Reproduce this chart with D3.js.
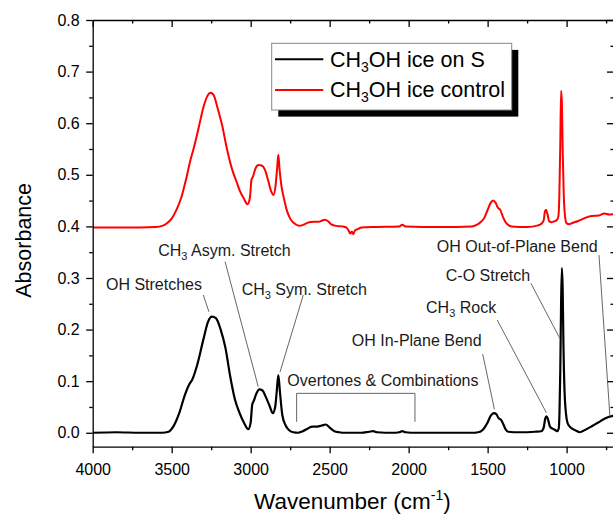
<!DOCTYPE html>
<html>
<head>
<meta charset="utf-8">
<script src="https://cdn.jsdelivr.net/npm/d3@7/dist/d3.min.js"></script>
<style>
  html, body { margin: 0; padding: 0; background: #fff; }
  svg { display: block; font-family: "Liberation Sans", Arial, sans-serif; }
</style>
</head>
<body>
<svg id="chart" width="613" height="514"></svg>
<script>
// ---------- DATA ----------
const seriesNames = ["CH3OH ice on S", "CH3OH ice control"];

const wavenumberS = [4000,3850,3700,3560,3520,3490,3450,3420,3390,3370,3340,3300,3270,3245,3220,3190,3160,3130,3100,3070,3040,3015,3000,2990,2980,2965,2945,2925,2905,2880,2860,2845,2835,2825,2815,2800,2780,2760,2730,2700,2670,2640,2610,2580,2550,2525,2500,2470,2440,2400,2300,2250,2225,2200,2100,2060,2040,2020,1950,1800,1600,1560,1530,1500,1480,1460,1445,1430,1415,1400,1385,1370,1300,1200,1160,1145,1135,1127,1118,1105,1090,1075,1060,1050,1045,1040,1035,1030,1025,1020,1013,1005,995,980,960,940,917,900,850,800,760,730,700];
const absorbanceS = [0.000,0.001,0.000,0.000,0.002,0.012,0.040,0.070,0.093,0.103,0.130,0.180,0.215,0.225,0.222,0.200,0.165,0.110,0.065,0.038,0.018,0.007,0.020,0.055,0.062,0.075,0.084,0.082,0.070,0.052,0.038,0.050,0.080,0.112,0.080,0.035,0.015,0.006,0.001,0.000,0.003,0.008,0.012,0.012,0.014,0.016,0.010,0.003,0.001,0.000,0.000,0.002,0.003,0.001,0.000,0.001,0.003,0.001,0.000,0.000,0.000,0.001,0.006,0.020,0.033,0.038,0.036,0.028,0.025,0.016,0.006,0.002,0.001,0.002,0.003,0.010,0.028,0.032,0.026,0.012,0.008,0.006,0.003,0.008,0.040,0.120,0.250,0.319,0.280,0.170,0.080,0.040,0.020,0.012,0.007,0.004,0.001,0.003,0.011,0.020,0.027,0.031,0.033];

const wavenumberC = [4000,3800,3600,3560,3530,3500,3470,3440,3410,3380,3360,3330,3300,3275,3255,3235,3210,3180,3150,3115,3090,3070,3045,3020,3005,2995,2985,2970,2950,2930,2910,2890,2870,2855,2842,2832,2825,2817,2805,2790,2770,2750,2720,2690,2660,2630,2600,2570,2550,2530,2510,2490,2460,2420,2395,2380,2370,2360,2350,2340,2320,2300,2200,2060,2040,2020,1800,1600,1570,1545,1520,1500,1480,1465,1450,1435,1420,1405,1390,1375,1350,1250,1180,1160,1145,1138,1131,1122,1110,1095,1075,1060,1052,1046,1040,1035,1030,1025,1018,1010,1000,985,960,930,900,870,840,800,760,730,700];
const absorbanceC = [0.398,0.398,0.399,0.401,0.406,0.415,0.432,0.455,0.490,0.530,0.552,0.590,0.630,0.652,0.659,0.655,0.630,0.595,0.550,0.508,0.487,0.470,0.455,0.443,0.455,0.490,0.497,0.512,0.519,0.518,0.510,0.490,0.468,0.461,0.480,0.515,0.539,0.510,0.478,0.455,0.430,0.415,0.405,0.401,0.404,0.408,0.409,0.409,0.411,0.413,0.410,0.404,0.401,0.400,0.398,0.392,0.386,0.390,0.385,0.392,0.395,0.398,0.399,0.400,0.403,0.400,0.399,0.400,0.403,0.408,0.417,0.432,0.446,0.450,0.446,0.436,0.432,0.420,0.410,0.404,0.400,0.399,0.402,0.405,0.412,0.428,0.432,0.425,0.410,0.408,0.410,0.413,0.420,0.460,0.560,0.663,0.640,0.550,0.460,0.420,0.406,0.404,0.407,0.410,0.414,0.418,0.420,0.421,0.425,0.423,0.424];

const xMajorTicks = [4000,3500,3000,2500,2000,1500,1000];
const xMinorTicks = [3750,3250,2750,2250,1750,1250,750];
const xTickLabels = ["4000","3500","3000","2500","2000","1500","1000"];
const yMajorTicks = [0,0.1,0.2,0.3,0.4,0.5,0.6,0.7,0.8];
const yMinorTicks = [0.05,0.15,0.25,0.35,0.45,0.55,0.65,0.75];
const yTickLabels = ["0.0","0.1","0.2","0.3","0.4","0.5","0.6","0.7","0.8"];

// annotations in data units: [label parts, text wavenumber, text absorbance, line from (v,a) to (v,a)]
const annoLabels = [
  [["CH","3"," Asym. Stretch"]],
  [["OH Stretches"]],
  [["CH","3"," Sym. Stretch"]],
  [["Overtones & Combinations"]],
  [["OH In-Plane Bend"]],
  [["CH","3"," Rock"]],
  [["C-O Stretch"]],
  [["OH Out-of-Plane Bend"]]
];
const annoTextAt = [[3585,0.3425],[3916,0.2766],[3057,0.267],[2768,0.0905],[2360,0.168],[1890,0.232],[1765,0.294],[1822,0.3495]];
const annoLines = [
  [3162,0.3315,2952,0.0892],
  [3300,0.267,3264,0.2345],
  [2667,0.267,2814,0.118],
  null,
  [1531,0.1525,1457,0.0454],
  [1439,0.2185,1128,0.0388],
  [1226,0.2896,1043,0.183],
  [795,0.3444,726,0.0324]
];
const bracket = [2709, 1960, 0.0764, 0.0213];

// ---------- LAYOUT ----------
const svg = d3.select("#chart");
const L = 92.7, R = 614, T = 20, B = 446.7;
const x = d3.scaleLinear().domain([4000, 700]).range([L, R]);
const y = d3.scaleLinear().domain([-0.027, 0.8]).range([B, T]);

svg.append("rect").attr("width", 613).attr("height", 514).attr("fill", "#fff");

// ---------- SERIES ----------
const line = d3.line().x(d => x(d[0])).y(d => y(d[1])).curve(d3.curveMonotoneX);
const dataS = wavenumberS.map((v, i) => [v, absorbanceS[i]]);
const dataC = wavenumberC.map((v, i) => [v, absorbanceC[i]]);

const clip = svg.append("clipPath").attr("id", "clip").append("rect")
  .attr("x", L).attr("y", T).attr("width", R - L).attr("height", B - T);

const plot = svg.append("g").attr("clip-path", "url(#clip)");
plot.append("path").datum(dataC).attr("d", line)
  .attr("fill", "none").attr("stroke", "#ff0000").attr("stroke-width", 2).attr("stroke-linejoin", "round");
plot.append("path").datum(dataS).attr("d", line)
  .attr("fill", "none").attr("stroke", "#000").attr("stroke-width", 2.2).attr("stroke-linejoin", "round");

// ---------- AXES ----------
function styleAxis(g) {
  g.select(".domain").attr("stroke", "#000").attr("stroke-width", 1.3);
  g.selectAll(".tick line").attr("stroke", "#000").attr("stroke-width", 1.3);
  g.selectAll(".tick text").attr("fill", "#000");
}
// bottom
const gxB = svg.append("g").attr("transform", `translate(0,${B})`)
  .call(d3.axisBottom(x).tickValues(xMajorTicks).tickFormat((d, i) => xTickLabels[i]).tickSizeInner(6.5).tickSizeOuter(0).tickPadding(10));
styleAxis(gxB);
gxB.selectAll(".tick text").attr("font-size", 16).attr("font-family", "Liberation Sans, Arial, sans-serif");
svg.append("g").attr("transform", `translate(0,${B})`)
  .call(d3.axisBottom(x).tickValues(xMinorTicks).tickFormat("").tickSizeInner(3.5).tickSizeOuter(0))
  .call(g => { g.select(".domain").remove(); styleAxis(g); });
// top
const gxT = svg.append("g").attr("transform", `translate(0,${T})`)
  .call(d3.axisBottom(x).tickValues(xMajorTicks).tickFormat("").tickSizeInner(7).tickSizeOuter(0));
styleAxis(gxT);
svg.append("g").attr("transform", `translate(0,${T})`)
  .call(d3.axisBottom(x).tickValues(xMinorTicks).tickFormat("").tickSizeInner(3.5).tickSizeOuter(0))
  .call(g => { g.select(".domain").remove(); styleAxis(g); });
// left
const gyL = svg.append("g").attr("transform", `translate(${L},0)`)
  .call(d3.axisLeft(y).tickValues(yMajorTicks).tickFormat((d, i) => yTickLabels[i]).tickSizeInner(6.5).tickSizeOuter(0).tickPadding(6.5));
styleAxis(gyL);
gyL.selectAll(".tick text").attr("font-size", 16).attr("font-family", "Liberation Sans, Arial, sans-serif");
svg.append("g").attr("transform", `translate(${L},0)`)
  .call(d3.axisLeft(y).tickValues(yMinorTicks).tickFormat("").tickSizeInner(3.5).tickSizeOuter(0))
  .call(g => { g.select(".domain").remove(); styleAxis(g); });
// right
const gyR = svg.append("g").attr("transform", `translate(${R},0)`)
  .call(d3.axisLeft(y).tickValues(yMajorTicks).tickFormat("").tickSizeInner(7).tickSizeOuter(0));
styleAxis(gyR);
svg.append("g").attr("transform", `translate(${R},0)`)
  .call(d3.axisLeft(y).tickValues(yMinorTicks).tickFormat("").tickSizeInner(3.5).tickSizeOuter(0))
  .call(g => { g.select(".domain").remove(); styleAxis(g); });

// axis titles
svg.append("text")
  .attr("transform", `translate(31,${(T + 432.7) / 2 + 14}) rotate(-90)`)
  .attr("text-anchor", "middle").attr("font-size", 21.5).attr("fill", "#000")
  .text("Absorbance");

const xt = svg.append("text").attr("x", (L + R) / 2 - 1).attr("y", 509)
  .attr("text-anchor", "middle").attr("font-size", 22.5).attr("fill", "#000");
xt.append("tspan").text("Wavenumber (cm");
xt.append("tspan").attr("font-size", 14).attr("dy", -9).text("-1");
xt.append("tspan").attr("dy", 9).text(")");

// ---------- ANNOTATIONS ----------
const ann = svg.append("g");
annoLabels.forEach((lab, i) => {
  const t = ann.append("text").attr("x", x(annoTextAt[i][0])).attr("y", y(annoTextAt[i][1]))
    .attr("font-size", 16).attr("fill", "#1a1a1a");
  lab[0].forEach((part, j) => {
    if (lab[0].length > 1 && j === 1) {
      t.append("tspan").attr("font-size", 11).attr("dy", 4).text(part);
    } else if (lab[0].length > 1 && j === 2) {
      t.append("tspan").attr("dy", -4).text(part);
    } else {
      t.append("tspan").text(part);
    }
  });
  const l = annoLines[i];
  if (l) {
    ann.append("line").attr("x1", x(l[0])).attr("y1", y(l[1])).attr("x2", x(l[2])).attr("y2", y(l[3]))
      .attr("stroke", "#555").attr("stroke-width", 0.9);
  }
});
ann.append("path")
  .attr("d", d3.line()([[x(bracket[0]), y(bracket[3])], [x(bracket[0]), y(bracket[2])], [x(bracket[1]), y(bracket[2])], [x(bracket[1]), y(bracket[3])]]))
  .attr("fill", "none").attr("stroke", "#555").attr("stroke-width", 0.9);

// ---------- LEGEND ----------
const lg = svg.append("g");
const lgX = 271.7, lgY = 43.3, lgW = 240, lgH = 66.7;
lg.append("rect").attr("x", lgX + 6.6).attr("y", lgY + 6.6).attr("width", lgW).attr("height", lgH).attr("fill", "#000");
lg.append("rect").attr("x", lgX).attr("y", lgY).attr("width", lgW).attr("height", lgH)
  .attr("fill", "#fff").attr("stroke", "#888").attr("stroke-width", 1);
const legColors = ["#000", "#ff0000"];
const legTails = [" ice on S", " ice control"];
seriesNames.forEach((name, i) => {
  const cy = [59.3, 90][i];
  lg.append("line").attr("x1", 275).attr("x2", 323.3).attr("y1", cy).attr("y2", cy)
    .attr("stroke", legColors[i]).attr("stroke-width", 2);
  const t = lg.append("text").attr("x", 330).attr("y", cy + 7.4).attr("font-size", 21.5).attr("fill", "#000");
  t.append("tspan").text("CH");
  t.append("tspan").attr("font-size", 14).attr("dy", 5).text("3");
  t.append("tspan").attr("dy", -5).text("OH" + legTails[i]);
});
</script>
</body>
</html>
